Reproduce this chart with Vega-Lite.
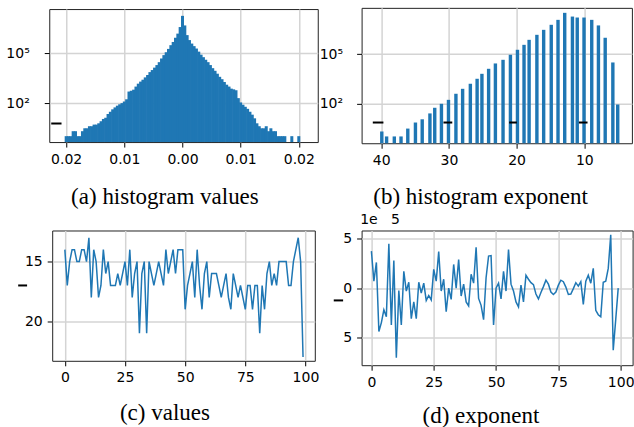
{
  "$schema": "https://vega.github.io/schema/vega-lite/v6.json",
  "padding": {"left": 0, "top": 6.55, "right": 0, "bottom": 0},
  "background": "white",
  "config": {
    "view": {"stroke": "#222", "strokeWidth": 1},
    "axis": {
      "grid": true, "gridColor": "#d4d4d4", "gridWidth": 1.5,
      "domain": false, "tickColor": "#000", "tickSize": 5, "tickWidth": 1,
      "labelFont": "DejaVu Sans", "labelFontSize": 14, "labelColor": "#000", "labelPadding": 5,
      "labelFlush": false, "labelOverlap": false, "labelBound": false,
      "titleFont": "Liberation Serif", "titleFontSize": 23, "titleFontWeight": "normal", "titleColor": "#000"
    }
  },
  "columns": 2,
  "bounds": "flush",
  "align": "each",
  "center": true,
  "spacing": {"column": 43.6, "row": 86.95},
  "concat": [
    {
      "width": 268.5, "height": 133,
      "layer": [
        {
          "data": {"values": [
            {"v": -0.02, "n": 1}, {"v": -0.0196, "n": 1}, {"v": -0.0192, "n": 1}, {"v": -0.0188, "n": 2}, {"v": -0.0184, "n": 2},
            {"v": -0.018, "n": 1}, {"v": -0.0176, "n": 1}, {"v": -0.0172, "n": 2}, {"v": -0.0168, "n": 3}, {"v": -0.0164, "n": 3},
            {"v": -0.016, "n": 4}, {"v": -0.0156, "n": 4}, {"v": -0.0152, "n": 5}, {"v": -0.0148, "n": 5}, {"v": -0.0144, "n": 6},
            {"v": -0.014, "n": 8}, {"v": -0.0136, "n": 11}, {"v": -0.0132, "n": 13}, {"v": -0.0128, "n": 22}, {"v": -0.0124, "n": 30},
            {"v": -0.012, "n": 42}, {"v": -0.0116, "n": 55}, {"v": -0.0112, "n": 70}, {"v": -0.0108, "n": 85}, {"v": -0.0104, "n": 100},
            {"v": -0.01, "n": 125}, {"v": -0.0096, "n": 170}, {"v": -0.0092, "n": 500}, {"v": -0.0088, "n": 560}, {"v": -0.0084, "n": 650},
            {"v": -0.008, "n": 1000}, {"v": -0.0076, "n": 1500}, {"v": -0.0072, "n": 2000}, {"v": -0.0068, "n": 2600}, {"v": -0.0064, "n": 3600},
            {"v": -0.006, "n": 5000}, {"v": -0.0056, "n": 7500}, {"v": -0.0052, "n": 10000}, {"v": -0.0048, "n": 14000}, {"v": -0.0044, "n": 20000},
            {"v": -0.004, "n": 30000}, {"v": -0.0036, "n": 50000}, {"v": -0.0032, "n": 80000}, {"v": -0.0028, "n": 120000}, {"v": -0.0024, "n": 190000},
            {"v": -0.002, "n": 320000}, {"v": -0.0016, "n": 500000}, {"v": -0.0012, "n": 900000}, {"v": -0.0008, "n": 1600000}, {"v": -0.0004, "n": 4000000},
            {"v": 0, "n": 19000000},
            {"v": 0.0004, "n": 5000000}, {"v": 0.0008, "n": 1300000}, {"v": 0.0012, "n": 650000}, {"v": 0.0016, "n": 400000}, {"v": 0.002, "n": 280000},
            {"v": 0.0024, "n": 200000}, {"v": 0.0028, "n": 130000}, {"v": 0.0032, "n": 85000}, {"v": 0.0036, "n": 60000}, {"v": 0.004, "n": 42000},
            {"v": 0.0044, "n": 30000}, {"v": 0.0048, "n": 20000}, {"v": 0.0052, "n": 13000}, {"v": 0.0056, "n": 9000}, {"v": 0.006, "n": 6000},
            {"v": 0.0064, "n": 3900}, {"v": 0.0068, "n": 2800}, {"v": 0.0072, "n": 1900}, {"v": 0.0076, "n": 1300}, {"v": 0.008, "n": 1000},
            {"v": 0.0084, "n": 750}, {"v": 0.0088, "n": 680}, {"v": 0.0092, "n": 600}, {"v": 0.0096, "n": 200}, {"v": 0.01, "n": 110},
            {"v": 0.0104, "n": 80}, {"v": 0.0108, "n": 60}, {"v": 0.0112, "n": 45}, {"v": 0.0116, "n": 30}, {"v": 0.012, "n": 20},
            {"v": 0.0124, "n": 12}, {"v": 0.0128, "n": 6}, {"v": 0.0132, "n": 4}, {"v": 0.0136, "n": 3}, {"v": 0.014, "n": 3},
            {"v": 0.0144, "n": 4}, {"v": 0.0148, "n": 2}, {"v": 0.0152, "n": 3}, {"v": 0.0156, "n": 2}, {"v": 0.016, "n": 2},
            {"v": 0.0164, "n": 1}, {"v": 0.0168, "n": 1}, {"v": 0.0172, "n": 1}, {"v": 0.0176, "n": 1}, {"v": 0.0188, "n": 1},
            {"v": 0.02, "n": 1}
          ]},
          "mark": {"type": "bar", "width": 3, "color": "#1f77b4"},
          "encoding": {
            "x": {"field": "v", "type": "quantitative", "title": "(a) histogram values",
              "scale": {"domain": [-0.02205, 0.0224], "nice": false, "zero": false},
              "axis": {"values": [-0.02, -0.01, 0, 0.01, 0.02],
                "labelExpr": "(datum.value < 0 ? '\u2007\u2009' : '') + replace(replace(format(datum.value, '.2f'), '\u2212', ''), '-', '')",
                "titleX": 115.2, "titleY": 61.25, "titleAlign": "center", "titleBaseline": "alphabetic"}},
            "y": {"field": "n", "type": "quantitative", "title": null,
              "scale": {"type": "log", "domain": [0.4406, 49000000], "nice": false},
              "axis": {"values": [100, 100000], "labelPadding": 15,
                "labelExpr": "datum.value > 1000 ? '10\u2075' : '10\u00b2'"}},
            "y2": {"datum": 0.4406}
          }
        },
        {
          "data": {"values": [{"x1": -0.02257, "x2": -0.0208, "y": 5.83}]},
          "mark": {"type": "rule", "color": "#000", "strokeWidth": 2},
          "encoding": {
            "x": {"field": "x1", "type": "quantitative", "title": "(a) histogram values"},
            "x2": {"field": "x2"},
            "y": {"field": "y", "type": "quantitative", "title": null,
              "axis": {"values": [100, 100000], "labelPadding": 15,
                "labelExpr": "datum.value > 1000 ? '10\u2075' : '10\u00b2'"}}
          }
        }
      ]
    },
    {
      "width": 270.3, "height": 135.4,
      "layer": [
        {
          "data": {"values": [
            {"e": -39.91, "n": 2}, {"e": -39.2, "n": 1}, {"e": -38.06, "n": 1}, {"e": -37.07, "n": 1}, {"e": -36.07, "n": 3},
            {"e": -34.94, "n": 7}, {"e": -33.94, "n": 11}, {"e": -32.8, "n": 25}, {"e": -32.09, "n": 55}, {"e": -31.1, "n": 96},
            {"e": -30.06, "n": 167}, {"e": -28.96, "n": 390}, {"e": -27.97, "n": 780}, {"e": -26.83, "n": 1580}, {"e": -25.83, "n": 3170},
            {"e": -25.12, "n": 6350}, {"e": -24.13, "n": 12800}, {"e": -23.13, "n": 27000}, {"e": -22.0, "n": 45000}, {"e": -20.91, "n": 91000},
            {"e": -19.87, "n": 183000}, {"e": -18.9, "n": 365000}, {"e": -18.15, "n": 735000}, {"e": -17.0, "n": 1480000}, {"e": -16.0, "n": 2970000},
            {"e": -14.88, "n": 6000000}, {"e": -13.88, "n": 12000000}, {"e": -12.89, "n": 32000000}, {"e": -11.75, "n": 19000000}, {"e": -11.04, "n": 16600000},
            {"e": -10.04, "n": 16600000}, {"e": -8.9, "n": 12000000}, {"e": -7.91, "n": 5500000}, {"e": -6.91, "n": 980000}, {"e": -5.78, "n": 31000},
            {"e": -5.06, "n": 87}
          ]},
          "mark": {"type": "bar", "width": 3.4, "color": "#1f77b4"},
          "encoding": {
            "x": {"field": "e", "type": "quantitative", "title": "(b) histogram exponent",
              "scale": {"domain": [-42.155, -3.705], "nice": false, "zero": false},
              "axis": {"values": [-40, -30, -20, -10],
                "labelExpr": "(datum.value < 0 ? '\u2002' : '') + replace(replace(format(datum.value, 'd'), '\u2212', ''), '-', '')",
                "titleX": 118.45, "titleY": 60.05, "titleAlign": "center", "titleBaseline": "alphabetic"}},
            "y": {"field": "n", "type": "quantitative", "title": null,
              "scale": {"type": "log", "domain": [0.3859, 64200000], "nice": false},
              "axis": {"values": [100, 100000], "labelPadding": 14,
                "labelExpr": "datum.value > 1000 ? '10\u2075' : '10\u00b2'"}},
            "y2": {"datum": 0.3859}
          }
        },
        {
          "data": {"values": [
            {"x1": -41.24, "x2": -39.67, "y": 7}, {"x1": -30.8, "x2": -29.5, "y": 7},
            {"x1": -21.1, "x2": -19.96, "y": 7}, {"x1": -10.8, "x2": -9.52, "y": 7}
          ]},
          "mark": {"type": "rule", "color": "#000", "strokeWidth": 2},
          "encoding": {
            "x": {"field": "x1", "type": "quantitative", "title": "(b) histogram exponent"},
            "x2": {"field": "x2"},
            "y": {"field": "y", "type": "quantitative", "title": null,
              "axis": {"values": [100, 100000], "labelPadding": 14,
                "labelExpr": "datum.value > 1000 ? '10\u2075' : '10\u00b2'"}}
          }
        }
      ]
    },
    {
      "width": 262.6, "height": 130.3,
      "layer": [
        {
          "data": {"values": [
            {"i": 0, "v": -14}, {"i": 1, "v": -17}, {"i": 2, "v": -15}, {"i": 3, "v": -14}, {"i": 4, "v": -14}, {"i": 5, "v": -15}, {"i": 6, "v": -15}, {"i": 7, "v": -14}, {"i": 8, "v": -14}, {"i": 9, "v": -15},
            {"i": 10, "v": -13}, {"i": 11, "v": -18}, {"i": 12, "v": -14}, {"i": 13, "v": -15}, {"i": 14, "v": -18}, {"i": 15, "v": -17}, {"i": 16, "v": -14}, {"i": 17, "v": -16}, {"i": 18, "v": -15}, {"i": 19, "v": -17},
            {"i": 20, "v": -17}, {"i": 21, "v": -17}, {"i": 22, "v": -16}, {"i": 23, "v": -17}, {"i": 24, "v": -16}, {"i": 25, "v": -15}, {"i": 26, "v": -17}, {"i": 27, "v": -14}, {"i": 28, "v": -18}, {"i": 29, "v": -16},
            {"i": 30, "v": -15}, {"i": 31, "v": -21}, {"i": 32, "v": -16}, {"i": 33, "v": -15}, {"i": 34, "v": -21}, {"i": 35, "v": -15}, {"i": 36, "v": -16}, {"i": 37, "v": -17}, {"i": 38, "v": -16}, {"i": 39, "v": -15},
            {"i": 40, "v": -16}, {"i": 41, "v": -17}, {"i": 42, "v": -14}, {"i": 43, "v": -16}, {"i": 44, "v": -15}, {"i": 45, "v": -14}, {"i": 46, "v": -16}, {"i": 47, "v": -14}, {"i": 48, "v": -14}, {"i": 49, "v": -14},
            {"i": 50, "v": -19}, {"i": 51, "v": -17}, {"i": 52, "v": -16}, {"i": 53, "v": -15}, {"i": 54, "v": -18}, {"i": 55, "v": -14}, {"i": 56, "v": -17}, {"i": 57, "v": -19}, {"i": 58, "v": -16}, {"i": 59, "v": -15},
            {"i": 60, "v": -18}, {"i": 61, "v": -16}, {"i": 62, "v": -16}, {"i": 63, "v": -16}, {"i": 64, "v": -17}, {"i": 65, "v": -18}, {"i": 66, "v": -17}, {"i": 67, "v": -16}, {"i": 68, "v": -18}, {"i": 69, "v": -19},
            {"i": 70, "v": -16}, {"i": 71, "v": -17}, {"i": 72, "v": -18}, {"i": 73, "v": -17}, {"i": 74, "v": -18}, {"i": 75, "v": -19}, {"i": 76, "v": -17}, {"i": 77, "v": -17}, {"i": 78, "v": -19}, {"i": 79, "v": -17},
            {"i": 80, "v": -17}, {"i": 81, "v": -21}, {"i": 82, "v": -17}, {"i": 83, "v": -19}, {"i": 84, "v": -16}, {"i": 85, "v": -15}, {"i": 86, "v": -17}, {"i": 87, "v": -16}, {"i": 88, "v": -17}, {"i": 89, "v": -15},
            {"i": 90, "v": -15}, {"i": 91, "v": -15}, {"i": 92, "v": -15}, {"i": 93, "v": -17}, {"i": 94, "v": -17}, {"i": 95, "v": -15}, {"i": 96, "v": -14}, {"i": 97, "v": -13}, {"i": 98, "v": -15}, {"i": 99, "v": -23}
          ]},
          "mark": {"type": "line", "color": "#1f77b4", "strokeWidth": 1.5},
          "encoding": {
            "x": {"field": "i", "type": "quantitative", "title": "(c) values",
              "scale": {"domain": [-5.258, 103.89], "nice": false, "zero": false},
              "axis": {"values": [0, 25, 50, 75, 100],
                "titleX": 112.25, "titleY": 59.1, "titleAlign": "center", "titleBaseline": "alphabetic"}},
            "y": {"field": "v", "type": "quantitative", "title": ".",
              "scale": {"domain": [-23.315, -12.393], "nice": false, "zero": false},
              "axis": {"values": [-15, -20],
                "labelExpr": "replace(replace(format(datum.value, 'd'), '\u2212', ''), '-', '')",
                "titleAngle": 0, "titleX": -51.05, "titleY": 0, "titleAlign": "left", "titleBaseline": "top",
                "titleOpacity": 0, "titleFontSize": 10}}
          }
        },
        {
          "data": {"values": [{"x1": -19.4, "x2": -15.7, "y": -17.0}]},
          "mark": {"type": "rule", "color": "#000", "strokeWidth": 2},
          "encoding": {
            "x": {"field": "x1", "type": "quantitative", "title": "(c) values"},
            "x2": {"field": "x2"},
            "y": {"field": "y", "type": "quantitative", "title": "."}
          }
        }
      ]
    },
    {
      "width": 271, "height": 134.7,
      "layer": [
        {
          "data": {"values": [
            {"i": 0, "v": 3.75e-5}, {"i": 1, "v": 0.7e-5}, {"i": 2, "v": 2.6e-5}, {"i": 3, "v": -4.4e-5}, {"i": 4, "v": -3.5e-5}, {"i": 5, "v": -2.2e-5}, {"i": 6, "v": -2.9e-5}, {"i": 7, "v": 4.5e-5}, {"i": 8, "v": -3.75e-5}, {"i": 9, "v": 2.8e-5},
            {"i": 10, "v": -7.06e-5}, {"i": 11, "v": -0.24e-5}, {"i": 12, "v": -3.75e-5}, {"i": 13, "v": 1.7e-5}, {"i": 14, "v": -0.3e-5}, {"i": 15, "v": 0.6e-5}, {"i": 16, "v": -3.1e-5}, {"i": 17, "v": -1.4e-5}, {"i": 18, "v": -3.1e-5}, {"i": 19, "v": 0.6e-5},
            {"i": 20, "v": -0.5e-5}, {"i": 21, "v": 0.5e-5}, {"i": 22, "v": -1.25e-5}, {"i": 23, "v": -0.75e-5}, {"i": 24, "v": -1.2e-5}, {"i": 25, "v": 1.9e-5}, {"i": 26, "v": 0.7e-5}, {"i": 27, "v": 3.7e-5}, {"i": 28, "v": -0.3e-5}, {"i": 29, "v": 0.9e-5},
            {"i": 30, "v": -2.4e-5}, {"i": 31, "v": 0}, {"i": 32, "v": -1.15e-5}, {"i": 33, "v": 2.4e-5}, {"i": 34, "v": 0}, {"i": 35, "v": 2.9e-5}, {"i": 36, "v": -0.8e-5}, {"i": 37, "v": 0.4e-5}, {"i": 38, "v": -1.4e-5}, {"i": 39, "v": -1.8e-5},
            {"i": 40, "v": 1.4e-5}, {"i": 41, "v": 0.5e-5}, {"i": 42, "v": 4.15e-5}, {"i": 43, "v": -1.05e-5}, {"i": 44, "v": -1.75e-5}, {"i": 45, "v": -3.2e-5}, {"i": 46, "v": 1.05e-5}, {"i": 47, "v": 3.25e-5}, {"i": 48, "v": 3.3e-5}, {"i": 49, "v": -3.75e-5},
            {"i": 50, "v": 0}, {"i": 51, "v": 0.5e-5}, {"i": 52, "v": -1.1e-5}, {"i": 53, "v": 1.7e-5}, {"i": 54, "v": -0.3e-5}, {"i": 55, "v": 3.9e-5}, {"i": 56, "v": 0.4e-5}, {"i": 57, "v": -0.3e-5}, {"i": 58, "v": -1.4e-5}, {"i": 59, "v": -1.9e-5},
            {"i": 60, "v": 0.3e-5}, {"i": 61, "v": -1.4e-5}, {"i": 62, "v": 1.3e-5}, {"i": 63, "v": 0.9e-5}, {"i": 64, "v": 0.55e-5}, {"i": 65, "v": 0.35e-5}, {"i": 66, "v": -0.6e-5}, {"i": 67, "v": -1.1e-5}, {"i": 68, "v": -0.45e-5}, {"i": 69, "v": 0.15e-5},
            {"i": 70, "v": 0.8e-5}, {"i": 71, "v": 0.4e-5}, {"i": 72, "v": -0.4e-5}, {"i": 73, "v": -0.65e-5}, {"i": 74, "v": -0.4e-5}, {"i": 75, "v": 0.3e-5}, {"i": 76, "v": 0.8e-5}, {"i": 77, "v": 0.65e-5}, {"i": 78, "v": 0.1e-5}, {"i": 79, "v": -0.65e-5},
            {"i": 80, "v": -0.6e-5}, {"i": 81, "v": -0.05e-5}, {"i": 82, "v": 0.55e-5}, {"i": 83, "v": 0.2e-5}, {"i": 84, "v": 0.65e-5}, {"i": 85, "v": -1.65e-5}, {"i": 86, "v": 0.7e-5}, {"i": 87, "v": 1.3e-5}, {"i": 88, "v": 0.5e-5}, {"i": 89, "v": 2.0e-5},
            {"i": 90, "v": -2.25e-5}, {"i": 91, "v": -2.7e-5}, {"i": 92, "v": -2.9e-5}, {"i": 93, "v": 0.6e-5}, {"i": 94, "v": 0.7e-5}, {"i": 95, "v": 2.0e-5}, {"i": 96, "v": 5.4e-5}, {"i": 97, "v": -6.3e-5}, {"i": 98, "v": -3.2e-5}, {"i": 99, "v": 0}
          ]},
          "mark": {"type": "line", "color": "#1f77b4", "strokeWidth": 1.5},
          "encoding": {
            "x": {"field": "i", "type": "quantitative", "title": "(d) exponent",
              "scale": {"domain": [-3.931, 104.77], "nice": false, "zero": false},
              "axis": {"values": [0, 25, 50, 75, 100],
                "titleX": 118.8, "titleY": 56.9, "titleAlign": "center", "titleBaseline": "alphabetic"}},
            "y": {"field": "v", "type": "quantitative", "title": "1e\u00a0\u00a0\u00a05",
              "scale": {"domain": [-7.82e-5, 5.842e-5], "nice": false, "zero": false},
              "axis": {"values": [-5e-5, 0, 5e-5],
                "labelExpr": "replace(replace(format(datum.value * 100000, '.0f'), '\u2212', ''), '-', '')",
                "titleAngle": 0, "titleX": -1.9, "titleY": -11.1, "titleAlign": "left", "titleBaseline": "middle",
                "titleFont": "DejaVu Sans", "titleFontSize": 14}}
          }
        },
        {
          "data": {"values": [{"x1": -15.1, "x2": -11.35, "y": -1.25e-5}]},
          "mark": {"type": "rule", "color": "#000", "strokeWidth": 2},
          "encoding": {
            "x": {"field": "x1", "type": "quantitative", "title": "(d) exponent"},
            "x2": {"field": "x2"},
            "y": {"field": "y", "type": "quantitative", "title": "1e\u00a0\u00a0\u00a05"}
          }
        }
      ]
    }
  ]
}
